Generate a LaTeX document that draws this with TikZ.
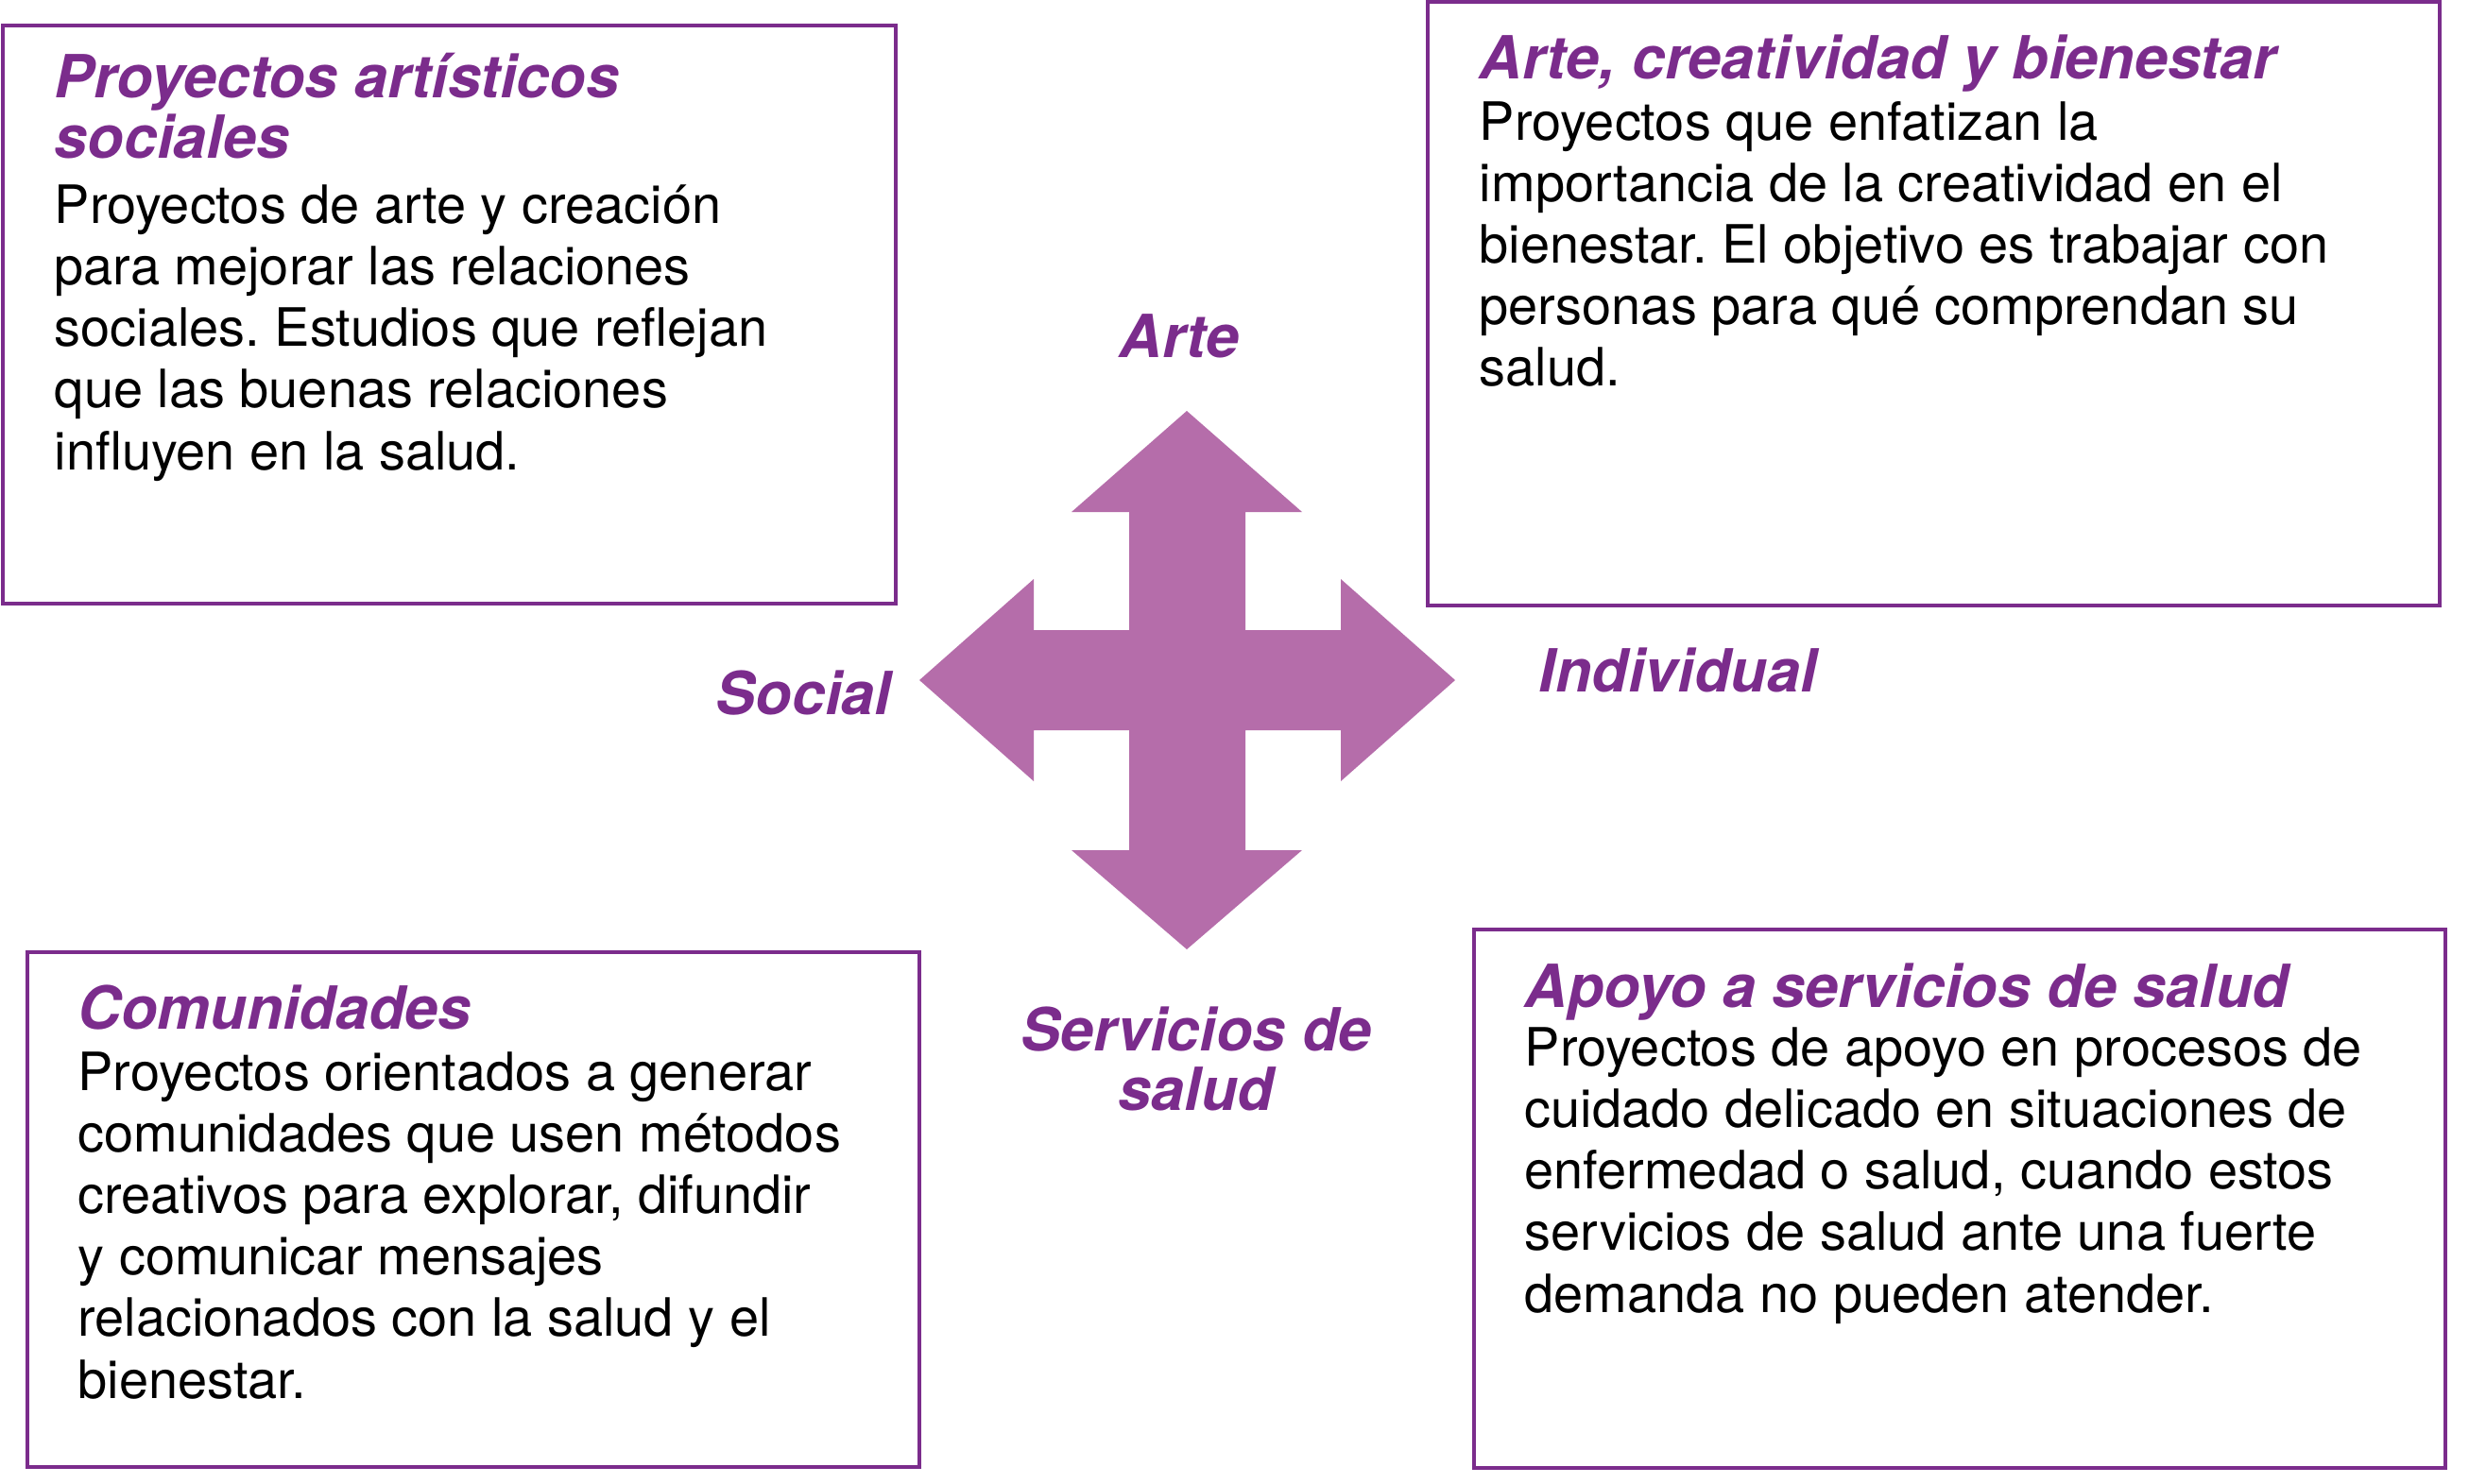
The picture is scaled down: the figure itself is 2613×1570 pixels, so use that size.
\documentclass[tikz,border=0pt]{standalone}
\usepackage{fontspec}
\setmainfont{TeX Gyre Heros}
\frenchspacing
\definecolor{ttlpurple}{RGB}{123,44,140}
\definecolor{arrowpurple}{RGB}{181,109,170}
\begin{document}
\begin{tikzpicture}[x=0.01cm,y=-0.01cm,
  box/.style={draw=ttlpurple,line width=1.1pt},
  ttl/.style={anchor=base west,inner sep=0pt,align=left,text=ttlpurple,font=\fontsize{17.9pt}{18.2pt}\selectfont\bfseries\itshape},
  body/.style={anchor=base west,inner sep=0pt,align=left,text=black,font=\fontsize{15.9pt}{18.5pt}\selectfont},
  lbl/.style={inner sep=0pt,text=ttlpurple,font=\fontsize{17.9pt}{17.9pt}\selectfont\bfseries\itshape,align=center},
  arrowshape/.style={fill=arrowpurple,draw=none}]
\useasboundingbox (0,0) rectangle (2613,1570);
% boxes
\draw[box] (3,27) rectangle (948,639);
\draw[box] (1511,2) rectangle (2582,641);
\draw[box] (29,1008) rectangle (973,1553);
\draw[box] (1560,984) rectangle (2588,1554);
% four-way arrow
\fill[arrowshape] (1256,435) -- (1378,542) -- (1318,542) -- (1318,667) -- (1419,667) -- (1419,613)
  -- (1540,720) -- (1419,827) -- (1419,773) -- (1318,773) -- (1318,900) -- (1378,900)
  -- (1256,1005) -- (1134,900) -- (1195,900) -- (1195,773) -- (1094,773) -- (1094,827)
  -- (973,720) -- (1094,613) -- (1094,667) -- (1195,667) -- (1195,542) -- (1134,542) -- cycle;
% axis labels (base anchor of a multi-line node = last line)
\node[lbl,anchor=base] (arte) at (1248,379) {Arte};
\node[lbl,anchor=base east] (social) at (944,756) {Social};
\node[lbl,anchor=base west] (individual) at (1628,732) {Individual};
\node[lbl,anchor=base] (servicios) at (1266,1175) {Servicios de\\salud};
% top-left
\node[ttl] (t1) at (57,168) {Proyectos artísticos\\sociales};
\node[body] (b1) at (57,497) {Proyectos de arte y creación\\para mejorar las relaciones\\sociales. Estudios que reflejan\\que las buenas relaciones\\influyen en la salud.};
% top-right
\node[ttl] (t2) at (1565,84) {Arte, creatividad y bienestar};
\node[body] (b2) at (1565,409) {Proyectos que enfatizan la\\importancia de la creatividad en el\\bienestar. El objetivo es trabajar con\\personas para qué comprendan su\\salud.};
% bottom-left
\node[ttl] (t3) at (82,1089) {Comunidades};
\node[body] (b3) at (82,1480) {Proyectos orientados a generar\\comunidades que usen métodos\\creativos para explorar, difundir\\y comunicar mensajes\\relacionados con la salud y el\\bienestar.};
% bottom-right
\node[ttl] (t4) at (1613,1066) {Apoyo a servicios de salud};
\node[body] (b4) at (1613,1389) {Proyectos de apoyo en procesos de\\cuidado delicado en situaciones de\\enfermedad o salud, cuando estos\\servicios de salud ante una fuerte\\demanda no pueden atender.};
\end{tikzpicture}
\end{document}
